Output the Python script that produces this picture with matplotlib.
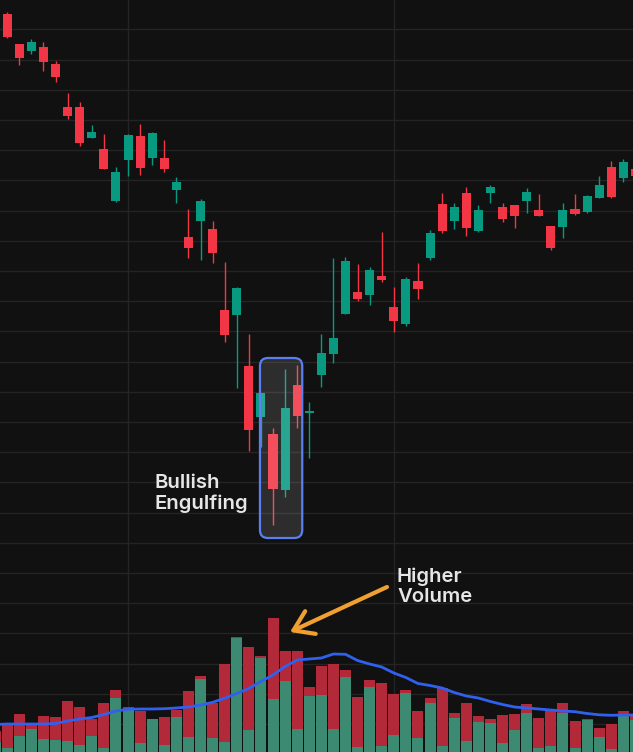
import numpy as np
import matplotlib.pyplot as plt
from matplotlib.patches import FancyBboxPatch

plt.rcParams['font.family'] = ['Inter', 'DejaVu Sans']

# price candles (index 0..52)
opens = [786, 756, 749, 753, 736, 693, 693, 662, 651, 599, 640, 664, 642, 642, 610, 563, 579, 571,
         490, 485, 434, 383, 366, 310, 415, 387, 425, 446, 486, 508, 505, 524, 493, 476, 519, 542,
         596, 579, 607, 569, 607, 593, 595, 599, 590, 574, 573, 591, 588, 602, 633, 622, 631]
closes = [763, 742, 758, 738, 723, 684, 657, 668, 631, 628, 665, 632, 667, 631, 618, 552, 599, 547,
          465, 512, 370, 407, 311, 392, 384, 389, 447, 462, 539, 501, 530, 520, 479, 521, 511, 567,
          569, 593, 572, 590, 613, 581, 584, 608, 584, 552, 590, 586, 604, 615, 603, 638, 624]
highs = [788, 756, 761, 758, 739, 707, 698, 675, 666, 633, 666, 676, 668, 660, 623, 591, 601, 579,
         538, 513, 466, 407, 372, 431, 435, 398, 466, 542, 543, 536, 533, 568, 513, 523, 537, 570,
         607, 597, 613, 595, 615, 597, 595, 612, 606, 574, 597, 606, 605, 624, 639, 641, 633]
lows = [762, 735, 746, 729, 718, 681, 654, 662, 631, 598, 624, 625, 635, 628, 597, 542, 540, 537,
        458, 412, 349, 353, 275, 303, 372, 342, 413, 437, 486, 499, 495, 518, 468, 474, 501, 540,
        567, 571, 564, 568, 597, 578, 572, 587, 584, 550, 562, 585, 587, 602, 602, 618, 622]

# volume (index -1..52): total, buy part, moving average
vol_total = [21, 27, 38, 29, 36, 35, 51, 45, 33, 49, 62, 45, 41, 33, 35, 42, 61, 76, 49, 88, 115,
             105, 96, 134, 101, 101, 65, 86, 88, 82, 55, 72, 69, 58, 62, 41, 54, 64, 39, 49, 36,
             33, 37, 38, 48, 34, 42, 49, 31, 33, 24, 28, 41, 36]
vol_buy = [10, 4, 16, 23, 13, 12, 11, 7, 16, 4, 54, 43, 9, 33, 7, 35, 15, 73, 14, 10, 114, 22, 94,
           53, 71, 23, 56, 57, 23, 75, 5, 65, 6, 17, 59, 14, 49, 6, 34, 11, 30, 29, 9, 22, 39, 4,
           6, 39, 4, 32, 15, 3, 38, 32]
vol_ma = [27.5, 28, 28, 28, 28, 28.5, 31, 33, 34.5, 37.5, 41, 42.7, 43, 43, 43.3, 44, 45, 47, 49.7,
          53.7, 58.5, 63.5, 70.5, 77, 85.5, 92, 93, 94, 98, 97.7, 91.5, 88, 85, 79, 74.5, 68.5,
          66.5, 64, 59.5, 56, 54, 50.5, 47.5, 45, 44, 43, 42, 41, 40.3, 38.5, 37.2, 36.7, 37, 37]

UP, DOWN = '#089981', '#f23645'
VUP, VDOWN = '#3d8a72', '#b22a3a'
BG = '#111111'

o = np.array(opens); c = np.array(closes)
h = np.array(highs); l = np.array(lows)
x = np.arange(len(o))
xv = np.arange(-1, len(vol_total) - 1)
cols = [UP if cc >= oo else DOWN for oo, cc in zip(o, c)]

fig = plt.figure(figsize=(6.33, 7.52), dpi=100, facecolor=BG)
ax = fig.add_axes([0, 0, 1, 1])
ax.set_facecolor(BG)

ax.vlines(x, l, h, colors=cols, lw=1, zorder=3)
body = np.maximum(np.abs(c - o), 1.5)
ax.bar(x, body, bottom=np.minimum(o, c), width=0.75, color=cols, zorder=3)

ax.set_xticks([10, 32])
ax.set_yticks(np.arange(770.7, 50, -30.2))
ax.set_xlim(-0.6, 51.8)
ax.set_ylim(48, 800)
ax.grid(True, color='#242424', lw=1)
ax.set_axisbelow(True)
ax.tick_params(length=0, labelbottom=False, labelleft=False)
for s in ax.spines.values():
    s.set_visible(False)

# volume
ax2 = ax.twinx()
ax2.bar(xv, vol_total, width=0.91, color=VDOWN, zorder=2)
ax2.bar(xv, vol_buy, width=0.91, color=VUP, zorder=2)
ax2.plot(xv, vol_ma, color='#3060ee', lw=2, zorder=3)
ax2.set_yticks([])
ax2.set_ylim(0, 752)
for s in ax2.spines.values():
    s.set_visible(False)

# pattern box
box = FancyBboxPatch((20.92, 262), 3.5, 180, boxstyle='round,pad=0,rounding_size=0.66',
                     mutation_aspect=12.08, fc=(1, 1, 1, 0.12), ec='#5b7ef0', lw=1.6, zorder=5)
ax.add_patch(box)

ax2.annotate('Bullish\nEngulfing', xy=(155, 752 - 474), xycoords='figure pixels',
             ha='left', va='top', fontsize=14.6, fontweight='semibold', color='#e6e6e6',
             linespacing=1.15)
ax2.annotate('Higher\nVolume', xy=(397, 752 - 567), xycoords='figure pixels',
             ha='left', va='top', fontsize=14.6, fontweight='semibold', color='#e6e6e6',
             linespacing=1.15)
ax2.annotate('', xy=(290, 752 - 632), xytext=(387, 752 - 587), xycoords='figure pixels',
             textcoords='figure pixels',
             arrowprops=dict(arrowstyle='->,head_length=0.9,head_width=0.6', color='#f0a030',
                             lw=3, mutation_scale=15, shrinkA=0, shrinkB=0))

fig.savefig('out.png', dpi=100, facecolor=BG)
